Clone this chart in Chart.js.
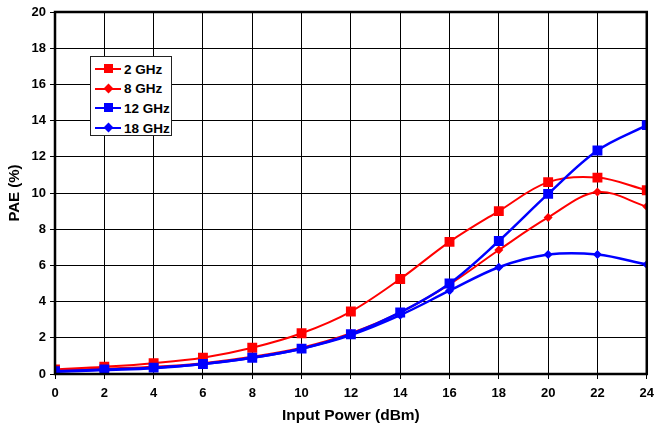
<!DOCTYPE html>
<html>
<head>
<meta charset="utf-8">
<script src="https://cdn.jsdelivr.net/npm/chart.js@4/dist/chart.umd.min.js"></script>
<style>
  html, body { margin: 0; padding: 0; background: #fff; }
  #wrap { position: relative; width: 661px; height: 429px; }
  #legend {
    position: absolute; left: 90px; top: 56px; width: 82px; height: 80px;
    border: 1px solid #222; background: #fff; box-sizing: border-box;
    font-family: "Liberation Sans", Arial, sans-serif; font-weight: bold; font-size: 13.5px;
  }
  .legend-item { position: absolute; left: 4px; height: 16px; display: flex; align-items: center; }
  .legend-line { position: relative; width: 26px; height: 2px; margin-right: 3px; }
  .legend-mark { position: absolute; left: 9px; top: -4px; width: 9px; height: 9px; }
  .legend-mark.diamond { left: 10px; top: -3px; width: 7px; height: 7px; transform: rotate(45deg); }
</style>
</head>
<body>
<div id="wrap">
  <canvas id="c" width="661" height="429"></canvas>
  <div id="legend"></div>
</div>
<script>
// Datos
const inputPower = [0, 2, 4, 6, 8, 10, 12, 14, 16, 18, 20, 22, 24];
const pae2GHz  = [0.25, 0.4, 0.6, 0.9, 1.45, 2.25, 3.45, 5.25, 7.3, 9.0, 10.6, 10.85, 10.15];
const pae8GHz  = [0.2, 0.3, 0.4, 0.6, 0.95, 1.45, 2.25, 3.4, 4.95, 6.85, 8.65, 10.05, 9.25];
const pae12GHz = [0.15, 0.25, 0.35, 0.55, 0.9, 1.4, 2.2, 3.4, 5.0, 7.35, 9.95, 12.35, 13.75];
const pae18GHz = [0.12, 0.22, 0.32, 0.55, 0.9, 1.4, 2.15, 3.25, 4.6, 5.9, 6.6, 6.6, 6.05];
const seriesLabels = ['2 GHz', '8 GHz', '12 GHz', '18 GHz'];

const RED = '#ff0000';
const BLUE = '#0000ff';
const FONT = '"Liberation Sans", Arial, sans-serif';

function toPoints(values) {
    return values.map((v, i) => ({ x: inputPower[i], y: v }));
}

const seriesDefs = [
    { data: pae2GHz,  color: RED,  marker: 'rect',    radius: 7,   width: 2,   order: 3 },
    { data: pae8GHz,  color: RED,  marker: 'rectRot', radius: 4.5, width: 2,   order: 2 },
    { data: pae12GHz, color: BLUE, marker: 'rect',    radius: 7,   width: 2.5, order: 0 },
    { data: pae18GHz, color: BLUE, marker: 'rectRot', radius: 4.5, width: 2.5, order: 1 }
];

const datasets = seriesDefs.map((s, i) => ({
    label: seriesLabels[i],
    data: toPoints(s.data),
    borderColor: s.color,
    backgroundColor: s.color,
    borderWidth: s.width,
    pointStyle: s.marker,
    pointRadius: s.radius,
    pointBorderWidth: 0,
    tension: 0.35,
    order: s.order
}));

// Leyenda HTML dentro del área de trazado
const legendContainer = document.getElementById('legend');
seriesDefs.forEach((s, i) => {
    const item = document.createElement('div');
    item.className = 'legend-item';
    item.style.top = (4 + i * 19.7) + 'px';
    const shape = s.marker === 'rect' ? '' : ' diamond';
    item.innerHTML = `
        <div class="legend-line" style="background:${s.color}">
          <div class="legend-mark${shape}" style="background:${s.color}"></div>
        </div>
        <span>${seriesLabels[i]}</span>`;
    legendContainer.appendChild(item);
});

// Borde negro grueso alrededor del área de trazado
const frame = {
    id: 'frame',
    afterDatasetsDraw(chart) {
        const a = chart.chartArea;
        const ctx = chart.ctx;
        ctx.save();
        ctx.strokeStyle = '#000';
        ctx.lineWidth = 2.5;
        ctx.strokeRect(a.left, a.top, a.right - a.left, a.bottom - a.top);
        ctx.restore();
    }
};

new Chart(document.getElementById('c'), {
    type: 'line',
    data: { datasets },
    options: {
        responsive: false,
        animation: false,
        layout: { padding: { top: 12, right: 7, left: 0, bottom: 0 } },
        plugins: { legend: { display: false }, tooltip: { enabled: false } },
        scales: {
            x: {
                type: 'linear',
                min: 0, max: 24,
                ticks: { stepSize: 2, color: '#000', font: { family: FONT, weight: 'bold', size: 13 }, padding: 7 },
                grid: { color: '#000', lineWidth: 1, tickLength: 5 },
                border: { display: false },
                title: { display: true, text: 'Input Power (dBm)', color: '#000', font: { family: FONT, weight: 'bold', size: 15.5 }, padding: { top: 9 } },
                afterFit(scale) { scale.height = 55; }
            },
            y: {
                min: 0, max: 20,
                ticks: { stepSize: 2, color: '#000', font: { family: FONT, weight: 'bold', size: 13 }, padding: 4 },
                grid: { color: '#000', lineWidth: 1, tickLength: 5 },
                border: { display: false },
                title: { display: true, text: 'PAE (%)', color: '#000', font: { family: FONT, weight: 'bold', size: 15 }, padding: { top: 6 } },
                afterFit(scale) { scale.width = 55; }
            }
        }
    },
    plugins: [frame]
});
</script>
</body>
</html>
